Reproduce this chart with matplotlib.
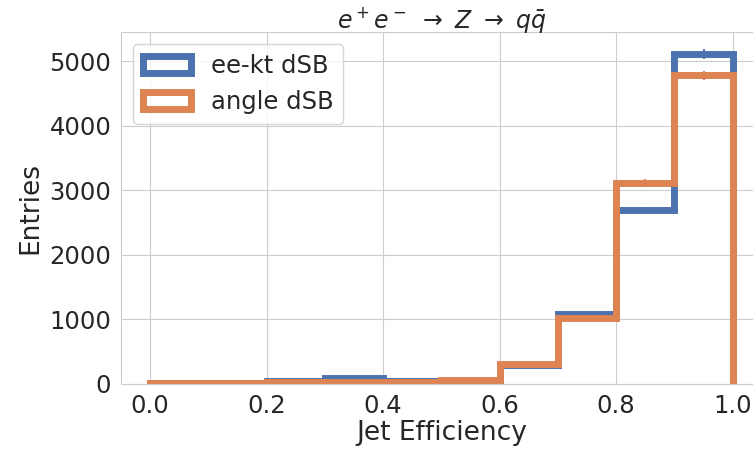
import numpy as np
import matplotlib
matplotlib.use("Agg")
import matplotlib.pyplot as plt
import seaborn as sns

# histogram contents (10 bins from 0 to 1)
bin_edges = [0.0, 0.1, 0.2, 0.3, 0.4, 0.5, 0.6, 0.7, 0.8, 0.9, 1.0]
eekt_counts = [8, 16, 40, 88, 46, 40, 290, 1079, 2693, 5108]
angle_counts = [8, 16, 31, 36, 36, 62, 310, 1017, 3111, 4783]
labels = ["ee-kt dSB", "angle dSB"]
colors = ["#4C72B0", "#DD8452"]

sns.set_style("whitegrid")
plt.rcParams["font.family"] = ["DejaVu Sans"]

fig = plt.figure(figsize=(7.53, 4.49), dpi=100)
ax = fig.add_axes([0.1607, 0.1448, 0.851, 0.784])

centers = (np.array(bin_edges[:-1]) + np.array(bin_edges[1:])) / 2
for counts, lab, col in zip([eekt_counts, angle_counts], labels, colors):
    counts = np.array(counts, dtype=float)
    ax.hist(centers, bins=bin_edges, weights=counts, histtype="step",
            linewidth=5, color=col, label=lab)
    ax.errorbar(centers, counts, yerr=np.sqrt(counts), fmt="none",
                ecolor=col, elinewidth=1.5)

ax.set_xlim(-0.05, 1.05)
ax.set_ylim(0, 5450)
ax.set_xticks([0.0, 0.2, 0.4, 0.6, 0.8, 1.0])
ax.set_yticks([0, 1000, 2000, 3000, 4000, 5000])
ax.tick_params(labelsize=17.5, colors="#262626")
ax.set_xlabel("Jet Efficiency", fontsize=19, color="#262626", labelpad=2)
ax.set_ylabel("Entries", fontsize=19, color="#262626")
ax.set_title(r"$e^+e^-\ \rightarrow\ Z\ \rightarrow\ q\bar{q}$", fontsize=17,
             color="#262626", pad=3)
ax.legend(loc="upper left", fontsize=17.5)

fig.savefig("out.png", dpi=100)
